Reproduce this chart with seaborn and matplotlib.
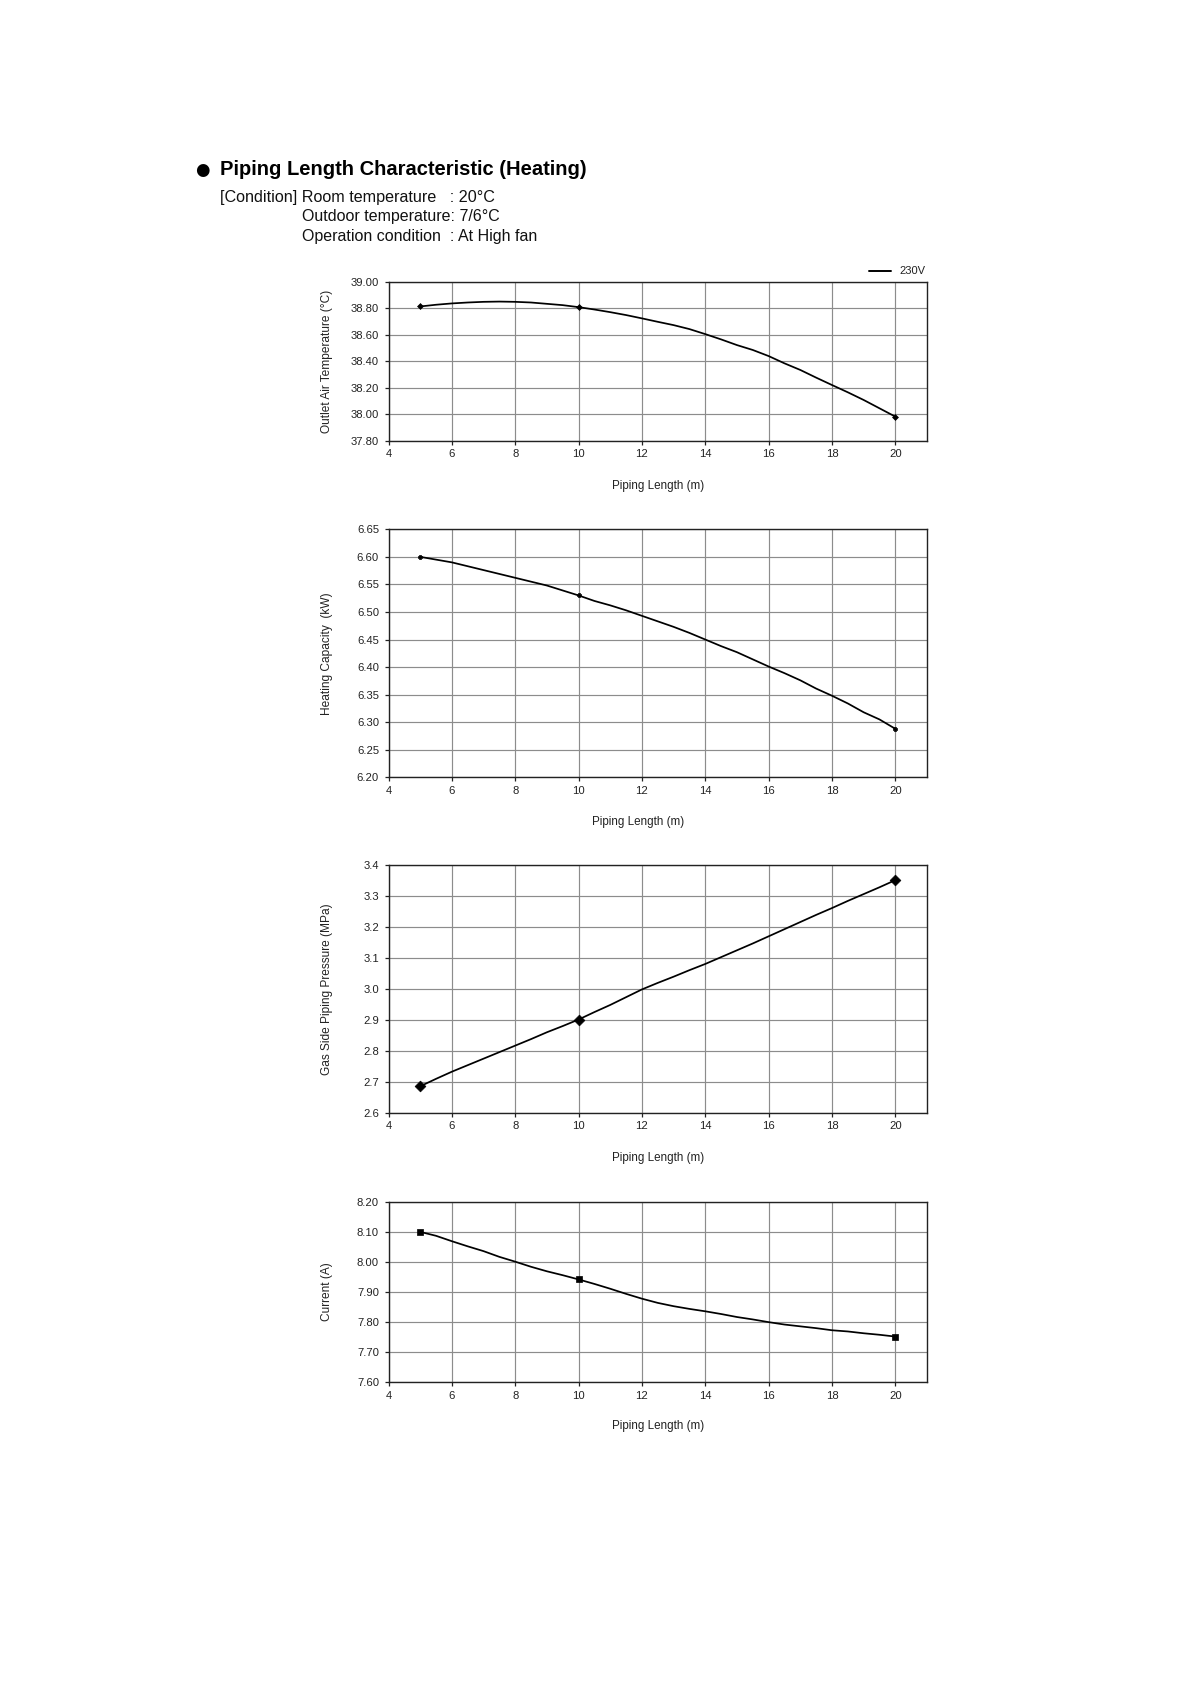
import matplotlib
matplotlib.use("Agg")
import matplotlib.pyplot as plt
import seaborn as sns
import pandas as pd

# ---------------- data ----------------
length_pts = [5, 10, 20]
curve_len = [5, 5.5, 6, 6.5, 7, 7.5, 8, 8.5, 9, 9.5, 10, 10.5, 11, 11.5, 12, 12.5,
             13, 13.5, 14, 14.5, 15, 15.5, 16, 16.5, 17, 17.5, 18, 18.5, 19, 19.5, 20]

outlet_pts = [38.82, 38.81, 37.98]
outlet_curve = [38.815, 38.828, 38.838, 38.845, 38.850, 38.852, 38.850, 38.845,
                38.835, 38.825, 38.810, 38.792, 38.772, 38.750, 38.725, 38.699,
                38.674, 38.644, 38.606, 38.566, 38.523, 38.486, 38.440, 38.385,
                38.335, 38.277, 38.221, 38.166, 38.108, 38.045, 37.982]

capacity_pts = [6.60, 6.53, 6.288]
capacity_curve = [6.600, 6.595, 6.590, 6.583, 6.576, 6.569, 6.562, 6.555, 6.548,
                  6.539, 6.530, 6.520, 6.512, 6.503, 6.493, 6.483, 6.473, 6.462,
                  6.450, 6.438, 6.427, 6.414, 6.401, 6.389, 6.376, 6.361, 6.348,
                  6.334, 6.318, 6.305, 6.288]

pressure_pts = [2.686, 2.90, 3.35]
pressure_curve = [2.686, 2.710, 2.733, 2.754, 2.775, 2.796, 2.817, 2.838, 2.860,
                  2.880, 2.901, 2.925, 2.948, 2.973, 2.998, 3.019, 3.039, 3.060,
                  3.080, 3.102, 3.124, 3.146, 3.169, 3.192, 3.215, 3.238, 3.260,
                  3.283, 3.305, 3.327, 3.350]

current_pts = [8.10, 7.942, 7.752]
current_curve = [8.100, 8.087, 8.069, 8.052, 8.036, 8.017, 8.001, 7.984, 7.969,
                 7.956, 7.942, 7.927, 7.911, 7.894, 7.878, 7.864, 7.853, 7.844,
                 7.836, 7.827, 7.817, 7.809, 7.800, 7.792, 7.786, 7.780, 7.773,
                 7.769, 7.763, 7.758, 7.752]

x_ticks = [4, 6, 8, 10, 12, 14, 16, 18, 20]
outlet_ticks = [37.80, 38.00, 38.20, 38.40, 38.60, 38.80, 39.00]
capacity_ticks = [6.20, 6.25, 6.30, 6.35, 6.40, 6.45, 6.50, 6.55, 6.60, 6.65]
pressure_ticks = [2.6, 2.7, 2.8, 2.9, 3.0, 3.1, 3.2, 3.3, 3.4]
current_ticks = [7.60, 7.70, 7.80, 7.90, 8.00, 8.10, 8.20]

title = "Piping Length Characteristic (Heating)"
cond_lines = ["[Condition] Room temperature   : 20°C",
              "Outdoor temperature: 7/6°C",
              "Operation condition  : At High fan"]
x_label = "Piping Length (m)"
y_labels = ["Outlet Air Temperature (°C)", "Heating Capacity  (kW)",
            "Gas Side Piping Pressure (MPa)", "Current (A)"]
legend_label = "230V"

# ---------------- style ----------------
sns.set_style("white")
plt.rcParams['font.family'] = ['Liberation Sans', 'DejaVu Sans']

W, H = 1190, 1684
fig = plt.figure(figsize=(W / 100, H / 100), dpi=100)


def px_axes(left, top, right, bottom):
    return fig.add_axes([left / W, 1 - bottom / H, (right - left) / W, (bottom - top) / H])


AX_L, AX_R = 388.5, 927.0
panels = [
    dict(box=(AX_L, 282.0, AX_R, 440.7), pts=outlet_pts, curve=outlet_curve,
         ticks=outlet_ticks, fmt="{:.2f}", marker="D", ms=9, ylab=y_labels[0],
         xlab_x=658.0, xlab_y=485.5),
    dict(box=(AX_L, 529.3, AX_R, 777.3), pts=capacity_pts, curve=capacity_curve,
         ticks=capacity_ticks, fmt="{:.2f}", marker="P", ms=12, ylab=y_labels[1],
         xlab_x=638.0, xlab_y=821.7),
    dict(box=(AX_L, 864.6, AX_R, 1113.0), pts=pressure_pts, curve=pressure_curve,
         ticks=pressure_ticks, fmt="{:.1f}", marker="D", ms=30, ylab=y_labels[2],
         xlab_x=658.0, xlab_y=1158.0),
    dict(box=(AX_L, 1201.8, AX_R, 1382.3), pts=current_pts, curve=current_curve,
         ticks=current_ticks, fmt="{:.2f}", marker="s", ms=14, ylab=y_labels[3],
         xlab_x=658.0, xlab_y=1426.0),
]

for i, p in enumerate(panels):
    left, top, right, bottom = p["box"]
    ax = px_axes(left, top, right, bottom)
    dfc = pd.DataFrame({"x": curve_len, "y": p["curve"]})
    dfp = pd.DataFrame({"x": length_pts, "y": p["pts"]})
    sns.lineplot(data=dfc, x="x", y="y", ax=ax, color="black", linewidth=1.25,
                 legend=False, zorder=3)
    sns.scatterplot(data=dfp, x="x", y="y", ax=ax, color="black", marker=p["marker"],
                    s=p["ms"], edgecolor="black", linewidth=0.5, zorder=4, legend=False)
    ax.set_xlim(4, 21)
    ax.set_ylim(p["ticks"][0], p["ticks"][-1])
    ax.set_xticks(x_ticks)
    ax.set_xticklabels([str(v) for v in x_ticks])
    ax.set_yticks(p["ticks"])
    ax.set_yticklabels([p["fmt"].format(v) for v in p["ticks"]])
    ax.grid(True, color="#8c8c8c", linewidth=0.85)
    ax.set_axisbelow(True)
    for s in ax.spines.values():
        s.set_color("#222222")
        s.set_linewidth(1.0)
    ax.tick_params(axis="both", which="major", direction="out", length=3, width=0.9,
                   labelsize=8.1, colors="#222222", bottom=True, left=True)
    ax.tick_params(axis="y", pad=3.8)
    ax.tick_params(axis="x", pad=3.0)
    ax.set_xlabel(x_label, fontsize=8.4, color="#222222")
    ax.xaxis.label.set_va("center")
    ax.xaxis.label.set_ha("center")
    ax.xaxis.set_label_coords((p["xlab_x"] - left) / (right - left),
                              (bottom - p["xlab_y"]) / (bottom - top))
    ax.set_ylabel(p["ylab"], fontsize=8.6, color="#222222")
    ax.yaxis.label.set_va("center")
    ax.yaxis.set_label_coords((327 - left) / (right - left), 0.5)

# legend drawn above the first chart
fig.lines.append(plt.Line2D([868.5 / W, 890.5 / W], [1 - 271.3 / H, 1 - 271.3 / H],
                            color="black", linewidth=1.4, transform=fig.transFigure))
fig.text(899.5 / W, 1 - 271.3 / H, legend_label, fontsize=8.0, va="center",
         ha="left", color="#222222")

# ---------------- header text ----------------
fig.text(202 / W, 1 - 170 / H, "●", fontsize=12, va="center", ha="center",
         color="black", family="DejaVu Sans")
fig.text(220.2 / W, 1 - 169.7 / H, title, fontsize=14.5, fontweight="bold",
         va="center", ha="left", color="black")
fig.text(220.2 / W, 1 - 197.8 / H, cond_lines[0], fontsize=11.6, va="center", ha="left",
         color="#111111")
fig.text(301.5 / W, 1 - 217.0 / H, cond_lines[1], fontsize=11.5, va="center", ha="left",
         color="#111111")
fig.text(301.5 / W, 1 - 236.3 / H, cond_lines[2], fontsize=11.5, va="center", ha="left",
         color="#111111")

fig.savefig("out.png", dpi=100, facecolor="white")
